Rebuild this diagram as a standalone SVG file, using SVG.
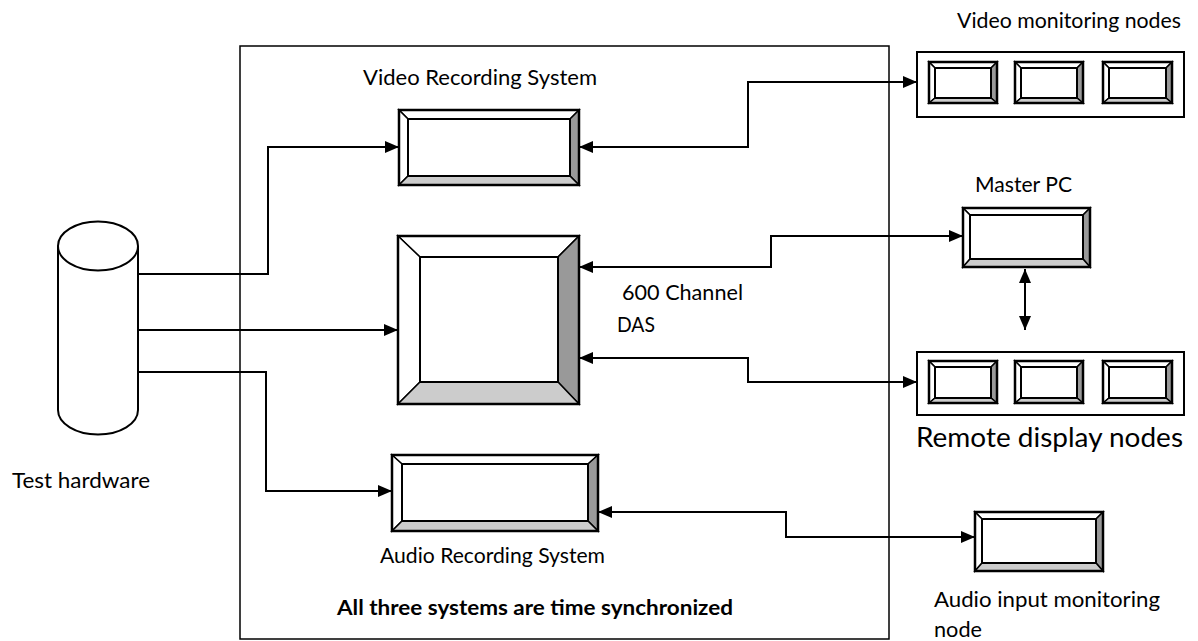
<svg xmlns="http://www.w3.org/2000/svg" width="1198" height="641" viewBox="0 0 1198 641">
<style>
  .t { font-family: Lato, "Open Sans", sans-serif; font-size: 21px; fill: #000; }
  .big { font-size: 27px; }
  .b { font-weight: bold; }
  .ln { fill: none; stroke: #000; stroke-width: 2; }
  .fr { fill: none; stroke: #000; stroke-width: 1.5; }
  .bw { fill: #fff; stroke: #000; stroke-width: 1.5; stroke-linejoin: miter; }
  .bd { fill: #999999; stroke: #000; stroke-width: 1.5; }
  .bl { fill: #cccccc; stroke: #000; stroke-width: 1.5; }
  .in { fill: #fff; stroke: #000; stroke-width: 2; }
  .out { fill: none; stroke: #000; stroke-width: 2.5; }
  .cont { fill: #fff; stroke: #000; stroke-width: 2; }
</style>
<defs>
  <marker id="ah" viewBox="0 0 14 12" refX="14" refY="6" markerWidth="14" markerHeight="12" markerUnits="userSpaceOnUse" orient="auto-start-reverse">
    <path d="M0,0 L14,6 L0,12 z" fill="#000"/>
  </marker>
</defs>
<rect width="1198" height="641" fill="#fff"/>

<!-- main frame -->
<rect id="frame" class="fr" x="240" y="46" width="649" height="593"/>

<!-- Test hardware cylinder -->
<g id="test-hardware">
  <path d="M58,246 V410 A40,24.5 0 0 0 138,410 V246" fill="#fff" stroke="#000" stroke-width="2"/>
  <ellipse cx="98" cy="246" rx="40" ry="24.5" fill="#fff" stroke="#000" stroke-width="2"/>
  <text class="t" x="12" y="488" textLength="138" lengthAdjust="spacingAndGlyphs">Test hardware</text>
</g>

<!-- Video Recording System -->
<g id="video-recording">
  <text class="t" x="363" y="85" textLength="234" lengthAdjust="spacingAndGlyphs">Video Recording System</text>
  <polygon class="bw" points="399,110 579,110 570,119 408,119"/>
  <polygon class="bw" points="399,110 408,119 408,176 399,185"/>
  <polygon class="bd" points="579,110 579,185 570,176 570,119"/>
  <polygon class="bl" points="399,185 408,176 570,176 579,185"/>
  <rect class="in" x="408" y="119" width="162" height="57"/>
  <rect class="out" x="399" y="110" width="180" height="75"/>
</g>

<!-- DAS -->
<g id="das">
  <polygon class="bw" points="398,236 579,236 558,257 420,257"/>
  <polygon class="bw" points="398,236 420,257 420,382 398,404"/>
  <polygon class="bd" points="579,236 579,404 558,382 558,257"/>
  <polygon class="bl" points="398,404 420,382 558,382 579,404"/>
  <rect class="in" x="420" y="257" width="138" height="125"/>
  <rect class="out" x="398" y="236" width="181" height="168"/>
  <text class="t" x="622" y="300" textLength="121" lengthAdjust="spacingAndGlyphs">600 Channel</text>
  <text class="t" x="617" y="332" textLength="38" lengthAdjust="spacingAndGlyphs">DAS</text>
</g>

<!-- Audio Recording System -->
<g id="audio-recording">
  <polygon class="bw" points="392,455 598,455 588,464 402,464"/>
  <polygon class="bw" points="392,455 402,464 402,521 392,531"/>
  <polygon class="bd" points="598,455 598,531 588,521 588,464"/>
  <polygon class="bl" points="392,531 402,521 588,521 598,531"/>
  <rect class="in" x="402" y="464" width="186" height="57"/>
  <rect class="out" x="392" y="455" width="206" height="76"/>
  <text class="t" x="380" y="563" textLength="225" lengthAdjust="spacingAndGlyphs">Audio Recording System</text>
</g>

<text id="sync-note" class="t b" x="337" y="615" textLength="396" lengthAdjust="spacingAndGlyphs">All three systems are time synchronized</text>

<!-- Video monitoring nodes -->
<g id="video-monitoring">
  <text class="t" x="957" y="28" textLength="224" lengthAdjust="spacingAndGlyphs">Video monitoring nodes</text>
  <rect class="cont" x="917" y="52" width="267" height="65"/>
  <g>
    <polygon class="bw" points="929,62 997,62 991,68 935,68"/>
    <polygon class="bw" points="929,62 935,68 935,98 929,103"/>
    <polygon class="bd" points="997,62 997,103 991,98 991,68"/>
    <polygon class="bl" points="929,103 935,98 991,98 997,103"/>
    <rect class="in" x="935" y="68" width="56" height="30"/>
    <rect class="out" x="929" y="62" width="68" height="41"/>
  </g>
  <g>
    <polygon class="bw" points="1015,62 1083,62 1077,68 1021,68"/>
    <polygon class="bw" points="1015,62 1021,68 1021,98 1015,103"/>
    <polygon class="bd" points="1083,62 1083,103 1077,98 1077,68"/>
    <polygon class="bl" points="1015,103 1021,98 1077,98 1083,103"/>
    <rect class="in" x="1021" y="68" width="56" height="30"/>
    <rect class="out" x="1015" y="62" width="68" height="41"/>
  </g>
  <g>
    <polygon class="bw" points="1103,62 1172,62 1166,68 1109,68"/>
    <polygon class="bw" points="1103,62 1109,68 1109,98 1103,103"/>
    <polygon class="bd" points="1172,62 1172,103 1166,98 1166,68"/>
    <polygon class="bl" points="1103,103 1109,98 1166,98 1172,103"/>
    <rect class="in" x="1109" y="68" width="57" height="30"/>
    <rect class="out" x="1103" y="62" width="69" height="41"/>
  </g>
</g>

<!-- Master PC -->
<g id="master-pc">
  <text class="t" x="975" y="192" textLength="97" lengthAdjust="spacingAndGlyphs">Master PC</text>
  <polygon class="bw" points="963,208 1090,208 1083,215 970,215"/>
  <polygon class="bw" points="963,208 970,215 970,259 963,267"/>
  <polygon class="bd" points="1090,208 1090,267 1083,259 1083,215"/>
  <polygon class="bl" points="963,267 970,259 1083,259 1090,267"/>
  <rect class="in" x="970" y="215" width="113" height="44"/>
  <rect class="out" x="963" y="208" width="127" height="59"/>
</g>

<!-- Remote display nodes -->
<g id="remote-display">
  <rect class="cont" x="917" y="352" width="267" height="63"/>
  <g>
    <polygon class="bw" points="929,361 997,361 991,367 935,367"/>
    <polygon class="bw" points="929,361 935,367 935,398 929,403"/>
    <polygon class="bd" points="997,361 997,403 991,398 991,367"/>
    <polygon class="bl" points="929,403 935,398 991,398 997,403"/>
    <rect class="in" x="935" y="367" width="56" height="31"/>
    <rect class="out" x="929" y="361" width="68" height="42"/>
  </g>
  <g>
    <polygon class="bw" points="1015,361 1083,361 1077,367 1021,367"/>
    <polygon class="bw" points="1015,361 1021,367 1021,398 1015,403"/>
    <polygon class="bd" points="1083,361 1083,403 1077,398 1077,367"/>
    <polygon class="bl" points="1015,403 1021,398 1077,398 1083,403"/>
    <rect class="in" x="1021" y="367" width="56" height="31"/>
    <rect class="out" x="1015" y="361" width="68" height="42"/>
  </g>
  <g>
    <polygon class="bw" points="1103,361 1172,361 1166,367 1109,367"/>
    <polygon class="bw" points="1103,361 1109,367 1109,398 1103,403"/>
    <polygon class="bd" points="1172,361 1172,403 1166,398 1166,367"/>
    <polygon class="bl" points="1103,403 1109,398 1166,398 1172,403"/>
    <rect class="in" x="1109" y="367" width="57" height="31"/>
    <rect class="out" x="1103" y="361" width="69" height="42"/>
  </g>
  <text class="t big" x="916" y="447" textLength="267" lengthAdjust="spacingAndGlyphs">Remote display nodes</text>
</g>

<!-- Audio input monitoring node -->
<g id="audio-input">
  <polygon class="bw" points="975,512 1103,512 1096,519 982,519"/>
  <polygon class="bw" points="975,512 982,519 982,563 975,571"/>
  <polygon class="bd" points="1103,512 1103,571 1096,563 1096,519"/>
  <polygon class="bl" points="975,571 982,563 1096,563 1103,571"/>
  <rect class="in" x="982" y="519" width="114" height="44"/>
  <rect class="out" x="975" y="512" width="128" height="59"/>
  <text class="t" x="934" y="607" textLength="226" lengthAdjust="spacingAndGlyphs">Audio input monitoring</text>
  <text class="t" x="934" y="637" textLength="48" lengthAdjust="spacingAndGlyphs">node</text>
</g>

<!-- connectors -->
<g id="connectors">
  <path class="ln" d="M138,274 H268 V147 H399" marker-end="url(#ah)"/>
  <path class="ln" d="M138,330 H398" marker-end="url(#ah)"/>
  <path class="ln" d="M138,372 H266 V491 H392" marker-end="url(#ah)"/>
  <path class="ln" d="M579,147 H748 V82 H917" marker-start="url(#ah)" marker-end="url(#ah)"/>
  <path class="ln" d="M579,267 H771 V236 H963" marker-start="url(#ah)" marker-end="url(#ah)"/>
  <path class="ln" d="M579,358 H748 V382 H917" marker-start="url(#ah)" marker-end="url(#ah)"/>
  <path class="ln" d="M1025,269 V330" marker-start="url(#ah)" marker-end="url(#ah)"/>
  <path class="ln" d="M598,512 H786 V537 H975" marker-start="url(#ah)" marker-end="url(#ah)"/>
</g>
</svg>
